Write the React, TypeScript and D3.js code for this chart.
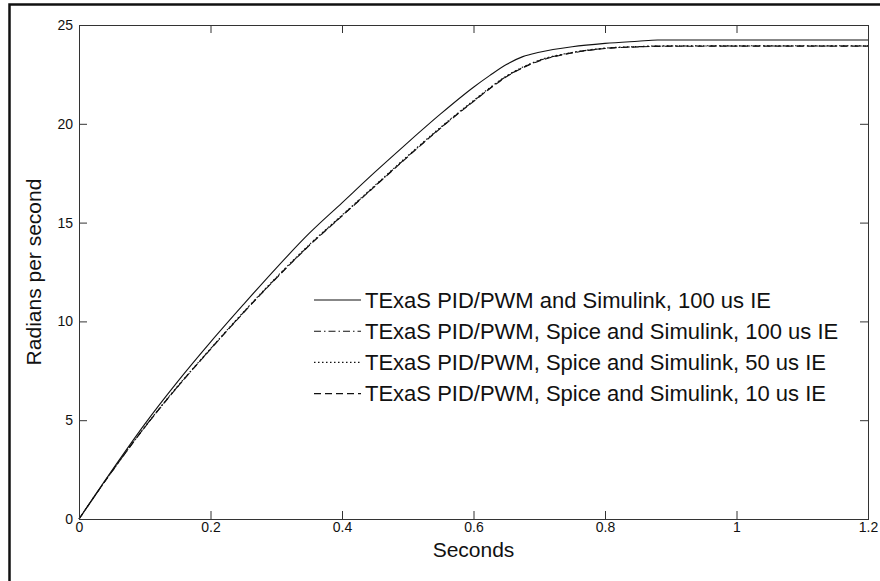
import { useEffect, useRef } from "react"
import * as d3 from "d3"

// time axis (seconds) and the four step responses (rad/s)
const time = [0, 0.05, 0.1, 0.15, 0.2, 0.25, 0.3, 0.35, 0.4, 0.45, 0.5, 0.55, 0.6, 0.625, 0.65, 0.675, 0.7, 0.75, 0.8, 0.85, 0.88, 1.0, 1.2]
const simulink100 = [0, 2.45, 4.8, 6.95, 8.95, 10.85, 12.7, 14.45, 16.0, 17.55, 19.05, 20.5, 21.85, 22.45, 23.0, 23.4, 23.62, 23.9, 24.07, 24.18, 24.24, 24.24, 24.24]
const spice100 = [0, 2.4, 4.65, 6.7, 8.6, 10.45, 12.2, 13.85, 15.35, 16.85, 18.35, 19.8, 21.15, 21.8, 22.4, 22.85, 23.2, 23.6, 23.82, 23.9, 23.93, 23.94, 23.94]
const spice50 = [0, 2.41, 4.66, 6.72, 8.62, 10.47, 12.23, 13.88, 15.38, 16.88, 18.38, 19.83, 21.18, 21.83, 22.42, 22.87, 23.22, 23.61, 23.83, 23.91, 23.94, 23.95, 23.95]
const spice10 = [0, 2.4, 4.64, 6.69, 8.59, 10.43, 12.18, 13.83, 15.33, 16.83, 18.33, 19.78, 21.13, 21.78, 22.38, 22.83, 23.18, 23.58, 23.81, 23.89, 23.92, 23.93, 23.93]

const seriesNames = [
    "TExaS PID/PWM and Simulink, 100 us IE",
    "TExaS PID/PWM, Spice and Simulink, 100 us IE",
    "TExaS PID/PWM, Spice and Simulink, 50 us IE",
    "TExaS PID/PWM, Spice and Simulink, 10 us IE",
]
const xTicks = [0, 0.2, 0.4, 0.6, 0.8, 1, 1.2]
const yTicks = [0, 5, 10, 15, 20, 25]

const FONT = "Arial, 'Liberation Sans', Helvetica, sans-serif"

export default function App() {
    const svgRef = useRef<SVGSVGElement>(null)

    useEffect(() => {
        if (!svgRef.current) return
        const svg = d3.select(svgRef.current)
        svg.selectAll("*").remove()

        const W = 880
        const H = 581
        const box = { left: 79, right: 868, top: 25, bottom: 519 }

        const x = d3.scaleLinear().domain([0, 1.2]).range([box.left, box.right])
        const y = d3.scaleLinear().domain([0, 25]).range([box.bottom, box.top])

        svg.append("rect").attr("width", W).attr("height", H).attr("fill", "#fff")

        // outer frame (only left and top edges visible)
        svg.append("path")
            .attr("d", `M9.5,${H} V4.5 H${W}`)
            .attr("fill", "none")
            .attr("stroke", "#111")
            .attr("stroke-width", 2.5)

        const series = [
            { values: simulink100, dash: null },
            { values: spice100, dash: "7 3 1.5 3" },
            { values: spice50, dash: "1.5 2.5" },
            { values: spice10, dash: "7 4" },
        ]

        const line = d3.line<number>()
            .x((_, i) => x(time[i]))
            .y(d => y(d))
            .curve(d3.curveMonotoneX)

        const plot = svg.append("g")
        series.forEach(s => {
            plot.append("path")
                .datum(s.values)
                .attr("fill", "none")
                .attr("stroke", "#111")
                .attr("stroke-width", 1.1)
                .attr("stroke-dasharray", s.dash)
                .attr("d", line)
        })

        // axes, MATLAB style with inward ticks on all four sides
        const styleAxis = (g: d3.Selection<SVGGElement, unknown, null, undefined>) => {
            g.select(".domain").remove()
            g.selectAll(".tick line").attr("stroke", "#333")
            g.selectAll(".tick text").attr("fill", "#111").attr("font-family", FONT).attr("font-size", 14)
        }

        svg.append("g")
            .attr("transform", `translate(0,${box.bottom})`)
            .call(d3.axisBottom(x).tickValues(xTicks).tickSizeInner(-8).tickSizeOuter(0).tickPadding(3).tickFormat(d3.format("~g")))
            .call(styleAxis)
        svg.append("g")
            .attr("transform", `translate(0,${box.top})`)
            .call(d3.axisTop(x).tickValues(xTicks).tickSizeInner(-8).tickSizeOuter(0).tickFormat(() => ""))
            .call(styleAxis)
        svg.append("g")
            .attr("transform", `translate(${box.left},0)`)
            .call(d3.axisLeft(y).tickValues(yTicks).tickSizeInner(-8).tickSizeOuter(0).tickPadding(6))
            .call(styleAxis)
        svg.append("g")
            .attr("transform", `translate(${box.right},0)`)
            .call(d3.axisRight(y).tickValues(yTicks).tickSizeInner(-8).tickSizeOuter(0).tickFormat(() => ""))
            .call(styleAxis)

        svg.append("rect")
            .attr("x", box.left + 0.5)
            .attr("y", box.top + 0.5)
            .attr("width", box.right - box.left)
            .attr("height", box.bottom - box.top)
            .attr("fill", "none")
            .attr("stroke", "#333")
            .attr("stroke-width", 1)

        // axis titles
        svg.append("text")
            .attr("x", (box.left + box.right) / 2)
            .attr("y", 557)
            .attr("text-anchor", "middle")
            .attr("font-family", FONT)
            .attr("font-size", 21)
            .attr("fill", "#111")
            .text("Seconds")

        svg.append("text")
            .attr("transform", `translate(41,${(box.top + box.bottom) / 2}) rotate(-90)`)
            .attr("text-anchor", "middle")
            .attr("font-family", FONT)
            .attr("font-size", 21)
            .attr("fill", "#111")
            .text("Radians per second")

        // legend (no box)
        const legend = svg.append("g").attr("transform", "translate(314,300)")
        series.forEach((s, i) => {
            const row = legend.append("g").attr("transform", `translate(0,${i * 31.2})`)
            row.append("line")
                .attr("x1", 0).attr("x2", 47)
                .attr("y1", 0).attr("y2", 0)
                .attr("stroke", "#111")
                .attr("stroke-width", 1.1)
                .attr("stroke-dasharray", s.dash)
            row.append("text")
                .attr("x", 51)
                .attr("dy", "0.35em")
                .attr("font-family", FONT)
                .attr("font-size", 22)
                .attr("fill", "#111")
                .text(seriesNames[i])
        })
    }, [])

    return (
        <svg
            ref={svgRef}
            width={880}
            height={581}
            viewBox="0 0 880 581"
            style={{ position: "absolute", left: 0, top: 0, display: "block" }}
        />
    )
}
